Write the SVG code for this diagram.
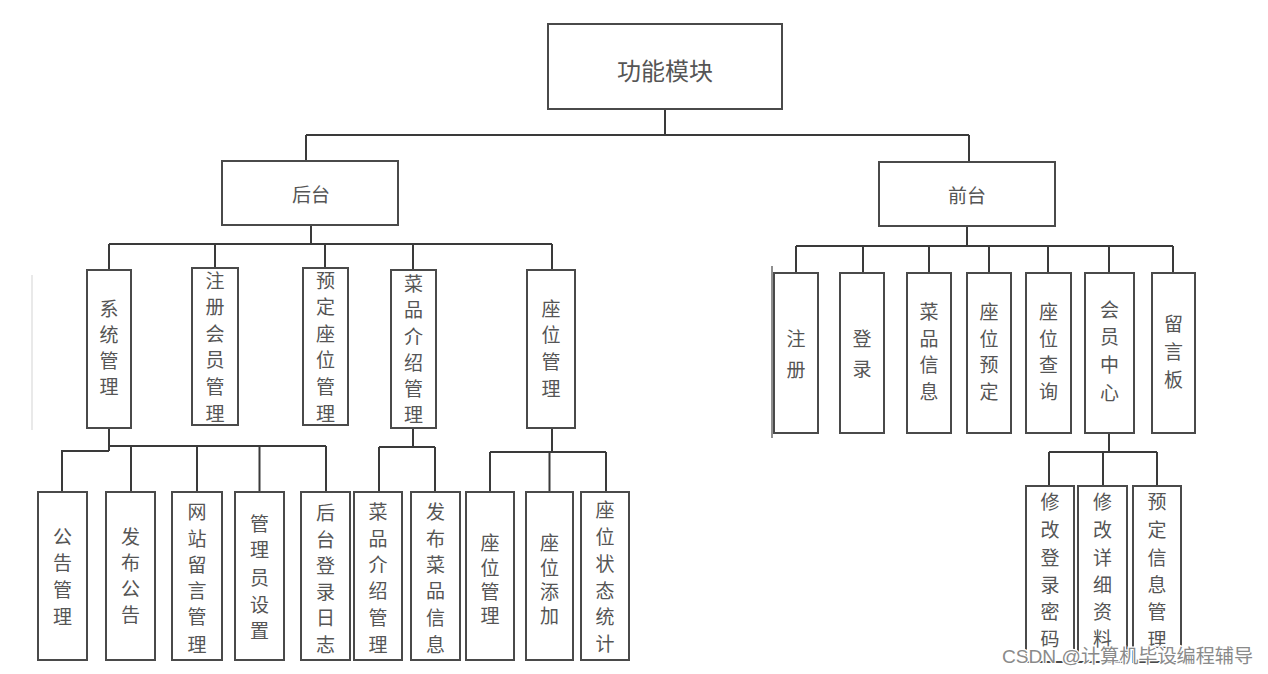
<svg xmlns="http://www.w3.org/2000/svg" width="1268" height="674" viewBox="0 0 1268 674">
<style>
.box{fill:#fff;stroke:#4a4a4a;stroke-width:2}
.t{font-family:"Noto Sans CJK SC","Noto Sans CJK JP",sans-serif;font-size:19px;fill:#555;text-anchor:middle;dominant-baseline:central}
.big{font-size:24px}
.c{fill:none;stroke:#3a3a3a;stroke-width:2}
.wm{font-family:"Liberation Sans","Noto Sans CJK SC",sans-serif;font-size:19px;fill:#8a8a8a;stroke:#fff;stroke-width:2.5;paint-order:stroke}
</style>
<rect width="1268" height="674" fill="#fff"/>
<g id="connectors">
<path class="c" d="M665 109V135M306 135H969M306 135V161M969 135V162"/>
<path class="c" d="M311 225V244M109 244H552M109 244V270M215 244V268M325 244V268M413 244V270M552 244V270"/>
<path class="c" d="M109 428V451M109 446H326M109 451H62V492M131 446V492M197 446V492M259.5 446V492M326 446V492"/>
<path class="c" d="M413 428V447M379 447H435M379 447V492M435 447V492"/>
<path class="c" d="M552 428V452M490 452H606M490 452V492M549.5 452V492M606 452V492"/>
<path class="c" d="M967 226V246M796 246H1173M796 246V273M863 246V273M929 246V273M989 246V273M1048 246V273M1109 246V273M1173 246V273"/>
<path class="c" d="M1109 433V452M1049 452H1157M1049 452V486M1103 452V486M1157 452V486"/>
<path d="M32 275V430" stroke="#e2e2e2" stroke-width="1.5"/>
<path d="M772 266V438" stroke="#6a6a6a" stroke-width="1.5"/>
</g>
<g id="root"><rect class="box" x="548" y="24" width="234" height="85"/><text class="t big" x="665" y="69">功能模块</text></g>
<g id="backend"><rect class="box" x="222" y="161" width="176" height="64"/><text class="t" x="311" y="193">后台</text></g>
<g id="frontend"><rect class="box" x="879" y="162" width="176" height="64"/><text class="t" x="967" y="194">前台</text></g>

<g id="b-sys"><rect class="box" x="87" y="270" width="44" height="158"/><text class="t"><tspan x="109" y="307">系</tspan><tspan x="109" y="333">统</tspan><tspan x="109" y="359">管</tspan><tspan x="109" y="385">理</tspan></text></g>
<g id="b-member"><rect class="box" x="192" y="268" width="46" height="157"/><text class="t"><tspan x="215" y="279">注</tspan><tspan x="215" y="305">册</tspan><tspan x="215" y="332">会</tspan><tspan x="215" y="358">员</tspan><tspan x="215" y="385">管</tspan><tspan x="215" y="412">理</tspan></text></g>
<g id="b-reserve"><rect class="box" x="303" y="268" width="45" height="157"/><text class="t"><tspan x="325.5" y="279">预</tspan><tspan x="325.5" y="305">定</tspan><tspan x="325.5" y="332">座</tspan><tspan x="325.5" y="358">位</tspan><tspan x="325.5" y="385">管</tspan><tspan x="325.5" y="412">理</tspan></text></g>
<g id="b-dish"><rect class="box" x="391" y="270" width="45" height="158"/><text class="t"><tspan x="413.5" y="282">菜</tspan><tspan x="413.5" y="308">品</tspan><tspan x="413.5" y="335">介</tspan><tspan x="413.5" y="361">绍</tspan><tspan x="413.5" y="387">管</tspan><tspan x="413.5" y="413">理</tspan></text></g>
<g id="b-seat"><rect class="box" x="527" y="270" width="48" height="158"/><text class="t"><tspan x="551" y="307">座</tspan><tspan x="551" y="333">位</tspan><tspan x="551" y="360">管</tspan><tspan x="551" y="387">理</tspan></text></g>

<g id="b-notice"><rect class="box" x="38" y="492" width="49" height="168"/><text class="t"><tspan x="62.5" y="535">公</tspan><tspan x="62.5" y="561">告</tspan><tspan x="62.5" y="588">管</tspan><tspan x="62.5" y="615">理</tspan></text></g>
<g id="b-pubnotice"><rect class="box" x="106" y="492" width="49" height="168"/><text class="t"><tspan x="130.5" y="535">发</tspan><tspan x="130.5" y="561">布</tspan><tspan x="130.5" y="587">公</tspan><tspan x="130.5" y="613">告</tspan></text></g>
<g id="b-msg"><rect class="box" x="172" y="492" width="50" height="168"/><text class="t"><tspan x="197" y="510">网</tspan><tspan x="197" y="537">站</tspan><tspan x="197" y="563">留</tspan><tspan x="197" y="589">言</tspan><tspan x="197" y="615">管</tspan><tspan x="197" y="643">理</tspan></text></g>
<g id="b-admin"><rect class="box" x="235" y="492" width="49" height="168"/><text class="t"><tspan x="259.5" y="522">管</tspan><tspan x="259.5" y="548">理</tspan><tspan x="259.5" y="576">员</tspan><tspan x="259.5" y="603">设</tspan><tspan x="259.5" y="629">置</tspan></text></g>
<g id="b-log"><rect class="box" x="301" y="492" width="49" height="168"/><text class="t"><tspan x="325.5" y="511">后</tspan><tspan x="325.5" y="538">台</tspan><tspan x="325.5" y="564">登</tspan><tspan x="325.5" y="590">录</tspan><tspan x="325.5" y="616">日</tspan><tspan x="325.5" y="643">志</tspan></text></g>
<g id="b-dishintro"><rect class="box" x="354" y="492" width="48" height="168"/><text class="t"><tspan x="378" y="510">菜</tspan><tspan x="378" y="537">品</tspan><tspan x="378" y="563">介</tspan><tspan x="378" y="589">绍</tspan><tspan x="378" y="616">管</tspan><tspan x="378" y="643">理</tspan></text></g>
<g id="b-pubdish"><rect class="box" x="411" y="492" width="49" height="168"/><text class="t"><tspan x="435.5" y="510">发</tspan><tspan x="435.5" y="537">布</tspan><tspan x="435.5" y="563">菜</tspan><tspan x="435.5" y="589">品</tspan><tspan x="435.5" y="616">信</tspan><tspan x="435.5" y="643">息</tspan></text></g>
<g id="b-seatmgr"><rect class="box" x="466" y="492" width="48" height="168"/><text class="t"><tspan x="490" y="541">座</tspan><tspan x="490" y="566">位</tspan><tspan x="490" y="590">管</tspan><tspan x="490" y="614">理</tspan></text></g>
<g id="b-seatadd"><rect class="box" x="526" y="492" width="47" height="168"/><text class="t"><tspan x="549.5" y="541">座</tspan><tspan x="549.5" y="566">位</tspan><tspan x="549.5" y="590">添</tspan><tspan x="549.5" y="614">加</tspan></text></g>
<g id="b-seatstat"><rect class="box" x="581" y="492" width="48" height="168"/><text class="t"><tspan x="605" y="508">座</tspan><tspan x="605" y="535">位</tspan><tspan x="605" y="562">状</tspan><tspan x="605" y="589">态</tspan><tspan x="605" y="615">统</tspan><tspan x="605" y="642">计</tspan></text></g>

<g id="f-register"><rect class="box" x="774" y="273" width="44" height="160"/><text class="t"><tspan x="796" y="337">注</tspan><tspan x="796" y="368">册</tspan></text></g>
<g id="f-login"><rect class="box" x="840" y="273" width="44" height="160"/><text class="t"><tspan x="862" y="337">登</tspan><tspan x="862" y="367">录</tspan></text></g>
<g id="f-dish"><rect class="box" x="907" y="273" width="44" height="160"/><text class="t"><tspan x="929" y="310">菜</tspan><tspan x="929" y="337">品</tspan><tspan x="929" y="363">信</tspan><tspan x="929" y="390">息</tspan></text></g>
<g id="f-reserve"><rect class="box" x="967" y="273" width="44" height="160"/><text class="t"><tspan x="989" y="310">座</tspan><tspan x="989" y="337">位</tspan><tspan x="989" y="363">预</tspan><tspan x="989" y="390">定</tspan></text></g>
<g id="f-query"><rect class="box" x="1026" y="273" width="45" height="160"/><text class="t"><tspan x="1048.5" y="310">座</tspan><tspan x="1048.5" y="337">位</tspan><tspan x="1048.5" y="363">查</tspan><tspan x="1048.5" y="390">询</tspan></text></g>
<g id="f-member"><rect class="box" x="1085" y="273" width="49" height="160"/><text class="t"><tspan x="1109.5" y="308">会</tspan><tspan x="1109.5" y="335">员</tspan><tspan x="1109.5" y="363">中</tspan><tspan x="1109.5" y="391">心</tspan></text></g>
<g id="f-board"><rect class="box" x="1152" y="273" width="43" height="160"/><text class="t"><tspan x="1173.5" y="322">留</tspan><tspan x="1173.5" y="350">言</tspan><tspan x="1173.5" y="378">板</tspan></text></g>

<g id="f-pwd"><rect class="box" x="1026" y="486" width="48" height="176"/><text class="t"><tspan x="1050" y="500">修</tspan><tspan x="1050" y="528">改</tspan><tspan x="1050" y="556">登</tspan><tspan x="1050" y="583">录</tspan><tspan x="1050" y="610">密</tspan><tspan x="1050" y="637">码</tspan></text></g>
<g id="f-profile"><rect class="box" x="1078" y="486" width="49" height="176"/><text class="t"><tspan x="1102.5" y="500">修</tspan><tspan x="1102.5" y="528">改</tspan><tspan x="1102.5" y="556">详</tspan><tspan x="1102.5" y="583">细</tspan><tspan x="1102.5" y="610">资</tspan><tspan x="1102.5" y="637">料</tspan></text></g>
<g id="f-resinfo"><rect class="box" x="1133" y="486" width="48" height="176"/><text class="t"><tspan x="1157" y="500">预</tspan><tspan x="1157" y="528">定</tspan><tspan x="1157" y="556">信</tspan><tspan x="1157" y="583">息</tspan><tspan x="1157" y="610">管</tspan><tspan x="1157" y="638">理</tspan></text></g>

<text class="wm" x="1002" y="663" textLength="251" lengthAdjust="spacingAndGlyphs">CSDN @计算机毕设编程辅导</text>
</svg>
